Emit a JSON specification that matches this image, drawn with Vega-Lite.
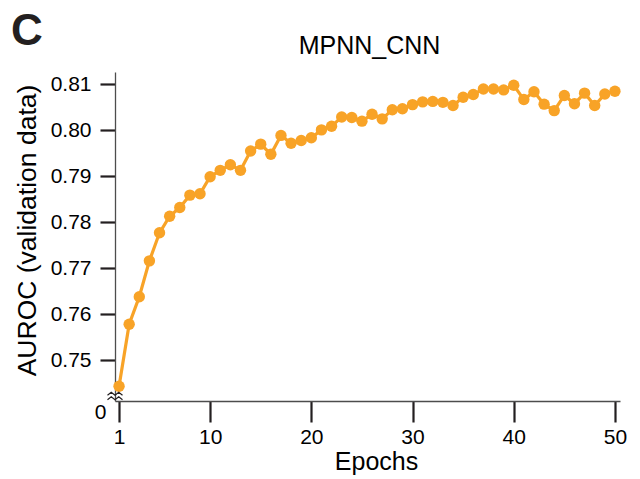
{
  "$schema": "https://vega.github.io/schema/vega-lite/v6.json",
  "width": 505,
  "height": 329,
  "autosize": "none",
  "padding": {"left": 115, "top": 72, "right": 20, "bottom": 78},
  "background": "white",
  "config": {
    "view": {"stroke": null},
    "font": "Liberation Sans"
  },
  "title": {
    "text": "C",
    "anchor": "start",
    "frame": "bounds",
    "font": "Liberation Sans",
    "fontSize": 44,
    "fontWeight": "bold",
    "color": "#231f20",
    "offset": 0,
    "dx": -3,
    "dy": 21
  },
  "datasets": {
    "auroc": [
      {"epoch": 1, "auroc": 0.7443},
      {"epoch": 2, "auroc": 0.7578},
      {"epoch": 3, "auroc": 0.7638},
      {"epoch": 4, "auroc": 0.7716},
      {"epoch": 5, "auroc": 0.7777},
      {"epoch": 6, "auroc": 0.7813},
      {"epoch": 7, "auroc": 0.7832},
      {"epoch": 8, "auroc": 0.7859},
      {"epoch": 9, "auroc": 0.7862},
      {"epoch": 10, "auroc": 0.7899},
      {"epoch": 11, "auroc": 0.7913},
      {"epoch": 12, "auroc": 0.7925},
      {"epoch": 13, "auroc": 0.7913},
      {"epoch": 14, "auroc": 0.7955},
      {"epoch": 15, "auroc": 0.7970},
      {"epoch": 16, "auroc": 0.7948},
      {"epoch": 17, "auroc": 0.7989},
      {"epoch": 18, "auroc": 0.7972},
      {"epoch": 19, "auroc": 0.7978},
      {"epoch": 20, "auroc": 0.7984},
      {"epoch": 21, "auroc": 0.8001},
      {"epoch": 22, "auroc": 0.8009},
      {"epoch": 23, "auroc": 0.8029},
      {"epoch": 24, "auroc": 0.8028},
      {"epoch": 25, "auroc": 0.8020},
      {"epoch": 26, "auroc": 0.8035},
      {"epoch": 27, "auroc": 0.8025},
      {"epoch": 28, "auroc": 0.8045},
      {"epoch": 29, "auroc": 0.8047},
      {"epoch": 30, "auroc": 0.8056},
      {"epoch": 31, "auroc": 0.8062},
      {"epoch": 32, "auroc": 0.8063},
      {"epoch": 33, "auroc": 0.8061},
      {"epoch": 34, "auroc": 0.8054},
      {"epoch": 35, "auroc": 0.8072},
      {"epoch": 36, "auroc": 0.8078},
      {"epoch": 37, "auroc": 0.8090},
      {"epoch": 38, "auroc": 0.8090},
      {"epoch": 39, "auroc": 0.8088},
      {"epoch": 40, "auroc": 0.8098},
      {"epoch": 41, "auroc": 0.8067},
      {"epoch": 42, "auroc": 0.8084},
      {"epoch": 43, "auroc": 0.8057},
      {"epoch": 44, "auroc": 0.8043},
      {"epoch": 45, "auroc": 0.8076},
      {"epoch": 46, "auroc": 0.8058},
      {"epoch": 47, "auroc": 0.8081},
      {"epoch": 48, "auroc": 0.8054},
      {"epoch": 49, "auroc": 0.8079},
      {"epoch": 50, "auroc": 0.8085}
    ],
    "axisbreak": [
      {"epoch": 0.6, "auroc": 0.7422}
    ]
  },
  "encoding": {
    "y": {
      "field": "auroc",
      "type": "quantitative",
      "scale": {"domain": [0.7411, 0.8127], "zero": false, "nice": false},
      "axis": {
        "values": [0.7411, 0.75, 0.76, 0.77, 0.78, 0.79, 0.8, 0.81],
        "labelExpr": "datum.value < 0.745 ? '0' : format(datum.value, '.2f')",
        "labelOverlap": false,
        "labelFlush": false,
        "labelFont": "Liberation Sans",
        "labelFontSize": 21,
        "labelColor": "#000000",
        "labelPadding": {"condition": {"test": "datum.value < 0.745", "value": -6}, "value": 9},
        "labelOffset": {"condition": {"test": "datum.value < 0.745", "value": 11}, "value": 0},
        "tickOpacity": {"condition": {"test": "datum.value < 0.745", "value": 0}, "value": 1},
        "tickSize": 15,
        "tickWidth": 2.2,
        "tickColor": "#231f20",
        "domainColor": "#4d4d4d",
        "domainWidth": 1.3,
        "grid": false,
        "title": "AUROC (validation data)",
        "titleFont": "Liberation Sans",
        "titleFontSize": 26.5,
        "titleFontWeight": "normal",
        "titleColor": "#000000",
        "titleAngle": 270,
        "titleAlign": "center",
        "titleBaseline": "alphabetic",
        "titleX": -80,
        "titleY": 158
      }
    }
  },
  "layer": [
    {
      "data": {"name": "auroc"},
      "mark": {"type": "line", "color": "#F8A327", "strokeWidth": 3.2},
      "encoding": {
        "x": {
          "field": "epoch",
          "type": "quantitative",
          "scale": {"domain": [0.6, 50.5], "nice": false, "zero": false},
          "axis": {
            "orient": "top",
            "domain": false,
            "ticks": false,
            "labels": false,
            "grid": false,
            "title": "MPNN_CNN",
            "titleFont": "Liberation Sans",
            "titleFontSize": 25,
            "titleFontWeight": "normal",
            "titleColor": "#000000",
            "titleAlign": "center",
            "titleBaseline": "alphabetic",
            "titleX": 254,
            "titleY": -19
          }
        }
      }
    },
    {
      "data": {"name": "auroc"},
      "mark": {"type": "point", "filled": true, "color": "#F8A327", "opacity": 1, "size": 130},
      "encoding": {
        "x": {
          "field": "epoch",
          "type": "quantitative",
          "axis": {
            "orient": "bottom",
            "values": [1, 10, 20, 30, 40, 50],
            "labelFlush": false,
            "labelOverlap": false,
            "labelFont": "Liberation Sans",
            "labelFontSize": 21,
            "labelColor": "#000000",
            "labelPadding": 4,
            "tickSize": 21,
            "tickWidth": 2.2,
            "tickColor": "#231f20",
            "domainColor": "#4d4d4d",
            "domainWidth": 1.3,
            "grid": false,
            "title": "Epochs",
            "titleFont": "Liberation Sans",
            "titleFontSize": 25,
            "titleFontWeight": "normal",
            "titleColor": "#000000",
            "titleAlign": "center",
            "titleBaseline": "alphabetic",
            "titleX": 261,
            "titleY": 68
          }
        }
      }
    },
    {
      "data": {"name": "axisbreak"},
      "mark": {
        "type": "point",
        "shape": "M-1,-0.1L-0.5,-0.5L0,-0.1L0.5,-0.5L1,-0.1M-1,0.5L-0.5,0.1L0,0.5L0.5,0.1L1,0.5",
        "filled": false,
        "stroke": "#231f20",
        "strokeWidth": 1.2,
        "opacity": 1,
        "size": 225
      },
      "encoding": {
        "x": {"field": "epoch", "type": "quantitative", "axis": null}
      }
    }
  ],
  "resolve": {"axis": {"x": "independent"}}
}
